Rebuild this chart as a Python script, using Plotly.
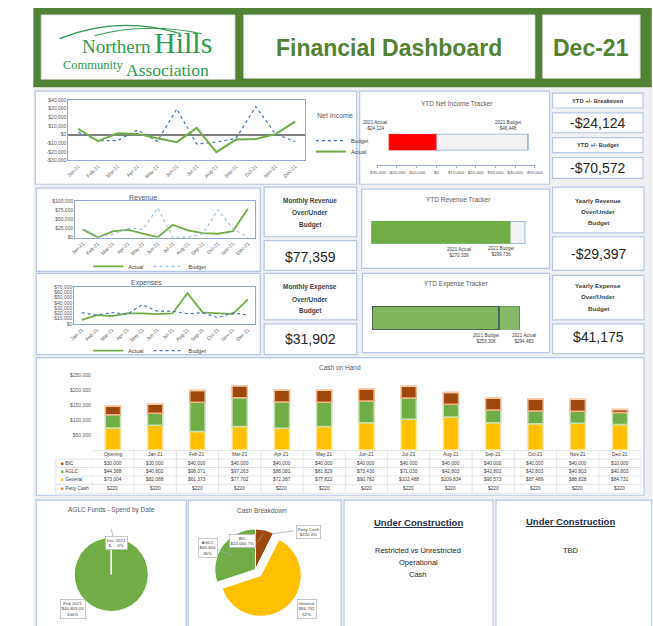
import plotly.graph_objects as go

W, H = 653, 626
FONT = "Liberation Sans"

# ---------------- data ----------------
months = ["Jan-21", "Feb-21", "Mar-21", "Apr-21", "May-21", "Jun-21",
          "Jul-21", "Aug-21", "Sep-21", "Oct-21", "Nov-21", "Dec-21"]

ni_budget = [2700, -6900, -6900, 5400, -7700, 29600, -10800, -8800, -4200, 32300, 800, -8100]
ni_actual = [6500, -7700, 1500, 800, -4200, -8800, 7700, -20400, -5800, -5000, 500, 15000]
ni_ticks = [-30000, -20000, -10000, 0, 10000, 20000, 30000, 40000]

rev_actual = [22700, 900, 17300, 21800, 10900, 1800, 35500, 20000, 12700, 10900, 18200, 79000]
rev_budget = [24500, 4500, 8200, 26400, 22700, 81000, 900, 1800, 10900, 76400, 24500, 900]
rev_ticks = [0, 25000, 50000, 75000, 100000]

exp_actual = [7500, 16900, 15000, 20000, 20000, 18750, 20000, 58750, 21900, 20000, 18750, 46900]
exp_budget = [21250, 16900, 21900, 18100, 36900, 24400, 24400, 19400, 21250, 11900, 21250, 16900]
exp_ticks = [0, 10000, 20000, 30000, 40000, 50000, 60000, 70000]

ytd_ni_actual, ytd_ni_budget = -24124, 46448
ytd_rev_actual, ytd_rev_budget = 270339, 299736
ytd_exp_budget, ytd_exp_actual = 253308, 294483
tracker_ticks = [-30000, -20000, -10000, 0, 10000, 20000, 30000, 40000, 50000]

kpi_ytd_breakeven = -24124
kpi_ytd_budget = -70572
kpi_month_rev = 77359
kpi_month_exp = 31902
kpi_year_rev = -29397
kpi_year_exp = 41175

cash_cols = ["Opening"] + months
cash_bic = [30000, 30000, 40000, 40000, 40000, 40000, 40000, 40000, 40000, 40000, 40000, 40000, 10000]
cash_aglc = [44388, 40802, 98071, 97263, 88081, 81829, 73430, 71030, 42803, 42802, 42803, 40803, 40803]
cash_general = [73004, 82088, 61373, 77702, 72287, 77822, 90782, 102488, 109834, 90573, 87489, 88828, 84731]
cash_petty = [220] * 13
cash_ticks = [50000, 100000, 150000, 200000, 250000]

aglc_spend_labels = ["Feb 2021", "Dec 2021"]
aglc_spend_values = [40803.03, 0]

breakdown_labels = ["BIC", "Petty Cash", "General", "AGLC"]
breakdown_values = [10000, 220, 84731, 40803]
breakdown_pct = ["7%", "0%", "62%", "30%"]

GREEN = "#70ad47"
BLUE = "#4472c4"
LBLUE = "#9dc3e6"
BROWN = "#9e480e"
GOLD = "#ffc000"
ORANGE = "#ed7d31"
PANEL = "#b4c7e7"
TXT = "#595959"


def px(x):
    return x / W


def py(y):
    return 1 - y / H


def money(v):
    s = "${:,.0f}".format(abs(v))
    return "-" + s if v < 0 else s


fig = go.Figure()

# ---------------- line charts ----------------
fig.add_trace(go.Scatter(x=months, y=ni_budget, mode="lines", name="Budget",
                         line=dict(color=BLUE, width=1.2, dash="dot"),
                         xaxis="x", yaxis="y", legend="legend"))
fig.add_trace(go.Scatter(x=months, y=ni_actual, mode="lines", name="Actual",
                         line=dict(color=GREEN, width=2),
                         xaxis="x", yaxis="y", legend="legend4"))

fig.add_trace(go.Scatter(x=months, y=rev_actual, mode="lines", name="Actual",
                         line=dict(color=GREEN, width=1.8),
                         xaxis="x2", yaxis="y2", legend="legend2"))
fig.add_trace(go.Scatter(x=months, y=rev_budget, mode="lines", name="Budget",
                         line=dict(color=LBLUE, width=1.2, dash="dot"),
                         xaxis="x2", yaxis="y2", legend="legend2"))

fig.add_trace(go.Scatter(x=months, y=exp_actual, mode="lines", name="Actual",
                         line=dict(color=GREEN, width=1.8),
                         xaxis="x3", yaxis="y3", legend="legend3"))
fig.add_trace(go.Scatter(x=months, y=exp_budget, mode="lines", name="Budget",
                         line=dict(color=BLUE, width=1.2, dash="dot"),
                         xaxis="x3", yaxis="y3", legend="legend3"))

# ---------------- trackers ----------------
fig.add_trace(go.Bar(x=[ytd_ni_budget], y=[0], base=0, orientation="h", width=1,
                     marker=dict(color="#f2f2f2", line=dict(color="#8faadc", width=1.5)),
                     xaxis="x4", yaxis="y4", showlegend=False))
fig.add_trace(go.Bar(x=[ytd_ni_actual], y=[0], base=0, orientation="h", width=1,
                     marker=dict(color="#ff0000", line=dict(color="#ff8080", width=0.5)),
                     xaxis="x4", yaxis="y4", showlegend=False))

fig.add_trace(go.Bar(x=[ytd_rev_budget], y=[0], base=0, orientation="h", width=1,
                     marker=dict(color="#f2f2f2", line=dict(color="#8faadc", width=1.5)),
                     xaxis="x5", yaxis="y5", showlegend=False))
fig.add_trace(go.Bar(x=[ytd_rev_actual], y=[0], base=0, orientation="h", width=1,
                     marker=dict(color=GREEN, line=dict(color=GREEN, width=0.5)),
                     xaxis="x5", yaxis="y5", showlegend=False))

fig.add_trace(go.Bar(x=[ytd_exp_actual], y=[0], base=0, orientation="h", width=1,
                     marker=dict(color="#86b866", line=dict(color="#5e8f3e", width=1)),
                     xaxis="x6", yaxis="y6", showlegend=False))
fig.add_trace(go.Bar(x=[ytd_exp_budget], y=[0], base=0, orientation="h", width=1,
                     marker=dict(color="rgba(112,173,71,0.25)", line=dict(color="#3b4a63", width=1.5)),
                     xaxis="x6", yaxis="y6", showlegend=False))

# ---------------- cash on hand (stacked via base) ----------------
base_aglc = list(cash_general)
base_bic = [g + a for g, a in zip(cash_general, cash_aglc)]
base_petty = [b + v for b, v in zip(base_bic, cash_bic)]
for name, vals, base, col, glow in [
        ("General", cash_general, [0] * 13, GOLD, "#ffe699"),
        ("AGLC", cash_aglc, base_aglc, GREEN, "#c5e0b4"),
        ("BIC", cash_bic, base_bic, BROWN, "#f4b183"),
        ("Petty Cash", cash_petty, base_petty, ORANGE, "#f8cbad")]:
    fig.add_trace(go.Bar(x=cash_cols, y=vals, base=base, name=name, width=0.36,
                         marker=dict(color=col, line=dict(color=glow, width=1.5)),
                         xaxis="x7", yaxis="y7", showlegend=False))

# ---------------- pies ----------------
fig.add_trace(go.Pie(labels=aglc_spend_labels, values=aglc_spend_values, sort=False,
                     direction="clockwise", rotation=0, textinfo="none",
                     marker=dict(colors=[GREEN, GOLD], line=dict(color="white", width=1)),
                     domain=dict(x=[px(67), px(143)], y=[py(615), py(539)]),
                     showlegend=False, hoverinfo="label+value"))
fig.add_trace(go.Pie(labels=breakdown_labels, values=breakdown_values, sort=False,
                     direction="clockwise", rotation=0, textinfo="none",
                     pull=[0, 0, 0.2, 0],
                     marker=dict(colors=[BROWN, ORANGE, GOLD, GREEN], line=dict(color="white", width=1)),
                     domain=dict(x=[px(203), px(303)], y=[py(622), py(522)]),
                     showlegend=False, hoverinfo="label+value"))

# ---------------- shapes ----------------
shapes = []


def R(x0, y0, x1, y1, fill="white", line=PANEL, lw=1.2, layer="below"):
    shapes.append(dict(type="rect", xref="paper", yref="paper",
                       x0=px(x0), x1=px(x1), y0=py(y1), y1=py(y0),
                       fillcolor=fill, line=dict(color=line, width=lw), layer=layer))


def L(x0, y0, x1, y1, color="#a6a6a6", lw=0.7, layer="above"):
    shapes.append(dict(type="line", xref="paper", yref="paper",
                       x0=px(x0), x1=px(x1), y0=py(y0), y1=py(y1),
                       line=dict(color=color, width=lw), layer=layer))


R(25, 85, 660, 630, fill="#f0f0f0", line="#f0f0f0", lw=0)
# header
R(25, 5, 660, 85, fill="#548235", line="#548235", lw=0)
R(33, 12, 232, 77, fill="white", line="#d9d9d9", lw=0.8)
R(241, 12, 540, 76, fill="white", line="#d9d9d9", lw=0.8)
R(548, 12, 648, 76, fill="white", line="#d9d9d9", lw=0.8)

panels = [
    (27, 89, 357, 183), (360, 89, 555, 183),
    (558, 91, 651, 106), (558, 111, 651, 131), (558, 136, 651, 151), (558, 156, 651, 177),
    (28, 187, 258, 271), (262, 186, 357, 236), (262, 240, 357, 270), (362, 188, 555, 268),
    (558, 186, 652, 232), (558, 236, 652, 270),
    (28, 273, 258, 355), (262, 273, 357, 320), (262, 324, 357, 355), (363, 273, 555, 353),
    (558, 275, 652, 320), (558, 324, 652, 354),
    (28, 358, 652, 497),
    (28, 502, 182, 632), (184, 502, 341, 632), (344, 502, 497, 632), (500, 502, 660, 632),
]
for p in panels:
    R(*p)

# logo arcs
LOGO = "#2f9b4f"
shapes.append(dict(type="path", xref="paper", yref="paper", layer="above",
                   path="M {},{} Q {},{} {},{}".format(px(52), py(36), px(112), py(12), px(176), py(31)),
                   line=dict(color=LOGO, width=1.4)))
shapes.append(dict(type="path", xref="paper", yref="paper", layer="above",
                   path="M {},{} Q {},{} {},{}".format(px(88), py(33), px(140), py(19), px(198), py(31)),
                   line=dict(color=LOGO, width=1.1)))

# table grid (cash on hand)
GRID = "#d9d9d9"
for k in range(14):
    shapes.append(dict(type="line", xref="x7", yref="paper", x0=k - 0.5, x1=k - 0.5,
                       y0=py(495), y1=py(452), line=dict(color=GRID, width=0.7), layer="above"))
shapes.append(dict(type="line", xref="x7", yref="paper", x0=-0.5, x1=12.5,
                   y0=py(452), y1=py(452), line=dict(color=GRID, width=0.7), layer="above"))
for yy in [460.5, 469, 477.5, 486, 495]:
    L(48, yy, 649, yy, color=GRID, lw=0.7)
L(48, 460.5, 48, 495, color=GRID, lw=0.7)

# pie leader lines / slice edge
L(105, 540, 105, 577, color="white", lw=1.5)
L(105, 531, 107, 539, color="#a6a6a6", lw=0.7)
L(215, 552, 230, 558, color="#a6a6a6", lw=0.7)
L(255, 545, 261, 536, color="#a6a6a6", lw=0.7)
L(292, 533, 270, 536, color="#a6a6a6", lw=0.7)

# ---------------- annotations ----------------
annotations = []


def T(x, y, text, size=5, color=TXT, bold=False, xanchor="center", yanchor="middle",
      family=FONT, xref="paper", **kw):
    if bold:
        text = "<b>" + text + "</b>"
    d = dict(x=x if xref != "paper" else px(x), y=py(y), xref=xref, yref="paper",
             text=text, showarrow=False, xanchor=xanchor, yanchor=yanchor,
             font=dict(size=size, color=color, family=family))
    d.update(kw)
    annotations.append(d)


# header
SERIF = "Liberation Serif"
T(148, 44, "Northern", 19, LOGO, family=SERIF, xanchor="right")
T(147, 40, "Hills", 30, LOGO, family=SERIF, xanchor="left")
T(119, 63, "Community", 12.5, LOGO, family=SERIF, xanchor="right")
T(118, 68, "Association", 17.5, LOGO, family=SERIF, xanchor="left")
T(390, 45, "Financial Dashboard", 23, "#538135", bold=True)
T(598, 45, "Dec-21", 23, "#538135", bold=True)

# chart titles
T(314, 114, "Net Income", 7, TXT, xanchor="left")
T(460, 101, "YTD Net Income Tracker", 6.5, TXT)
T(138, 196, "Revenue", 7, TXT)
T(141, 283, "Expenses", 7, TXT)
T(462, 198, "YTD Revenue Tracker", 6.5, TXT)
T(459, 284, "YTD Expense Tracker", 6.5, TXT)
T(340, 368, "Cash on Hand", 6.5, TXT)
T(105, 512, "AGLC Funds - Spend by Date", 6.5, TXT)
T(260, 512, "Cash Breakdown", 6.5, TXT)

# tracker labels
T(376, 124, "2021 Actual<br>" + money(ytd_ni_actual), 4.6, "#404040")
T(513, 124, "2021 Budget<br>" + money(ytd_ni_budget), 4.6, "#404040")
T(462, 252, "2021 Actual<br>" + money(ytd_rev_actual), 4.6, "#404040")
T(506, 251, "2021 Budget<br>" + money(ytd_rev_budget), 4.6, "#404040")
T(490, 339, "2021 Budget<br>" + money(ytd_exp_budget), 4.6, "#404040")
T(529, 339, "2021 Actual<br>" + money(ytd_exp_actual), 4.6, "#404040")

# KPI boxes
KTX = "#404040"
VAL = "#262626"
T(604.5, 98.5, "YTD +/- Breakeven", 5.8, KTX, bold=True)
T(604.5, 121, money(kpi_ytd_breakeven), 14, VAL)
T(604.5, 143.5, "YTD +/- Budget", 5.8, KTX, bold=True)
T(604.5, 167, money(kpi_ytd_budget), 14, VAL)
for i, s in enumerate(["Monthly Revenue", "Over/Under", "Budget"]):
    T(309.5, 200 + 12 * i, s, 6.5, KTX, bold=True)
T(309.5, 256, money(kpi_month_rev), 14, VAL)
for i, s in enumerate(["Monthly Expense", "Over/Under", "Budget"]):
    T(309.5, 287 + 12 * i, s, 6.5, KTX, bold=True)
T(309.5, 339, money(kpi_month_exp), 14, VAL)
for i, s in enumerate(["Yearly Revenue", "Over/Under", "Budget"]):
    T(605, 199 + 11.5 * i, s, 6.2, KTX, bold=True)
T(605, 253, money(kpi_year_rev), 14, VAL)
for i, s in enumerate(["Yearly Expense", "Over/Under", "Budget"]):
    T(605, 285 + 11.5 * i, s, 6.2, KTX, bold=True)
T(605, 337, money(kpi_year_exp), 14, VAL)

# under construction
T(420, 525, "<u>Under Construction</u>", 9.5, "#1f2d4d", bold=True)
T(420, 553, "Restricted vs Unrestricted", 7.5, "#262626")
T(420, 565, "Operational", 7.5, "#262626")
T(420, 577, "Cash", 7.5, "#262626")
T(577, 524, "<u>Under Construction</u>", 9.5, "#1f2d4d", bold=True)
T(577, 553, "TBD", 7.5, "#262626")

# cash table
for i, c in enumerate(cash_cols):
    T(i, 456, c, 4.8, "#404040", xref="x7")
row_y = [464.5, 473, 481.5, 490.5]
rows = [("BIC", cash_bic, BROWN), ("AGLC", cash_aglc, GREEN),
        ("General", cash_general, GOLD), ("Petty Cash", cash_petty, ORANGE)]
for (name, vals, col), yy in zip(rows, row_y):
    T(51, yy, "<span style='color:{}'>■</span> {}".format(col, name), 4.8, "#404040", xanchor="left")
    for i, v in enumerate(vals):
        T(i, yy, money(v), 4.8, "#404040", xref="x7")

# pie labels
BOX = dict(bgcolor="white", bordercolor="#a6a6a6", borderwidth=0.6, borderpad=1)
T(110, 545, "Dec 2021<br>$-    0%", 4.4, "#404040", **BOX)
T(66, 612, "Feb 2021<br>$40,803.03<br>100%", 4.4, "#404040", **BOX)
T(204, 550, "AGLC<br>" + money(breakdown_values[3]) + "<br>" + breakdown_pct[3], 4.4, "#404040", **BOX)
T(240, 543, "BIC<br>" + money(breakdown_values[0]) + " " + breakdown_pct[0], 4.4, "#404040", **BOX)
T(307, 534, "Petty Cash<br>" + money(breakdown_values[1]) + " " + breakdown_pct[1], 4.4, "#404040", **BOX)
T(306, 612, "General<br>" + money(breakdown_values[2]) + "<br>" + breakdown_pct[2], 4.4, "#404040", **BOX)

# ---------------- axes ----------------
TF = dict(size=5, color=TXT, family=FONT)
LINEAX = dict(showgrid=False, zeroline=False, showline=True, linecolor="#8faadc",
              linewidth=1, mirror=True, tickfont=TF, ticks="")
LEG = dict(font=dict(size=5.5, color="#404040"), bgcolor="rgba(0,0,0,0)", itemwidth=30)

layout = dict(
    width=W, height=H, margin=dict(l=0, r=0, t=0, b=0),
    paper_bgcolor="white", plot_bgcolor="rgba(0,0,0,0)",
    barmode="overlay", font=dict(family=FONT, size=5, color=TXT),
    shapes=shapes, annotations=annotations,
    xaxis=dict(LINEAX, domain=[px(61), px(304)], anchor="y", tickangle=-45,
               type="category", range=[-0.5, 11.5]),
    yaxis=dict(LINEAX, domain=[py(159), py(98)], anchor="x", range=[-30000, 40000],
               tickvals=ni_ticks, ticktext=[money(v) for v in ni_ticks],
               zeroline=True, zerolinecolor="#808080", zerolinewidth=1.5),
    xaxis2=dict(LINEAX, domain=[px(68), px(253)], anchor="y2", tickangle=-45,
                type="category", range=[-0.5, 11.5]),
    yaxis2=dict(LINEAX, domain=[py(237), py(200)], anchor="x2", range=[0, 100000],
                tickvals=rev_ticks, ticktext=[money(v) for v in rev_ticks]),
    xaxis3=dict(LINEAX, domain=[px(67), px(253)], anchor="y3", tickangle=-45,
                type="category", range=[-0.5, 11.5]),
    yaxis3=dict(LINEAX, domain=[py(324), py(287)], anchor="x3", range=[0, 70000],
                tickvals=exp_ticks, ticktext=[money(v) for v in exp_ticks]),
    xaxis4=dict(domain=[px(378), px(540)], anchor="free", position=py(164),
                range=[-30000, 50000], showgrid=False, zeroline=False, showline=True,
                linecolor="#9dafd6", linewidth=1, ticks="outside", ticklen=2,
                tickcolor="#9dafd6", tickvals=tracker_ticks, tickangle=0,
                ticktext=[money(v) for v in tracker_ticks],
                tickfont=dict(size=4.4, color=TXT, family=FONT)),
    yaxis4=dict(domain=[py(149), py(132)], anchor="x4", range=[-0.5, 0.5], visible=False),
    xaxis5=dict(domain=[px(372), px(530.2)], anchor="y5", range=[0, 300000], visible=False),
    yaxis5=dict(domain=[py(243), py(220)], anchor="x5", range=[-0.5, 0.5], visible=False),
    xaxis6=dict(domain=[px(373), px(527)], anchor="y6", range=[0, 300000], visible=False),
    yaxis6=dict(domain=[py(330), py(306)], anchor="x6", range=[-0.5, 0.5], visible=False),
    xaxis7=dict(domain=[px(85), px(649)], anchor="y7", type="category", range=[-0.5, 12.5],
                showticklabels=False, showgrid=False, zeroline=False, showline=False, ticks=""),
    yaxis7=dict(domain=[py(451), py(376)], anchor="x7", range=[0, 250000],
                tickvals=cash_ticks, ticktext=[money(v) for v in cash_ticks],
                showgrid=False, zeroline=False, showline=False, tickfont=TF, ticks=""),
    legend=dict(LEG, x=px(310), y=py(139), xanchor="left", yanchor="middle"),
    legend4=dict(LEG, x=px(310), y=py(150), xanchor="left", yanchor="middle"),
    legend2=dict(LEG, orientation="h", x=px(145), xanchor="center", y=py(266), yanchor="middle"),
    legend3=dict(LEG, orientation="h", x=px(145), xanchor="center", y=py(351), yanchor="middle"),
)
fig.update_layout(**layout)

fig.write_html("out.html", config={"displayModeBar": False},
               post_script="document.body.style.margin='0';"
                           "document.documentElement.style.overflow='hidden';"
                           "document.body.style.overflow='hidden';")
